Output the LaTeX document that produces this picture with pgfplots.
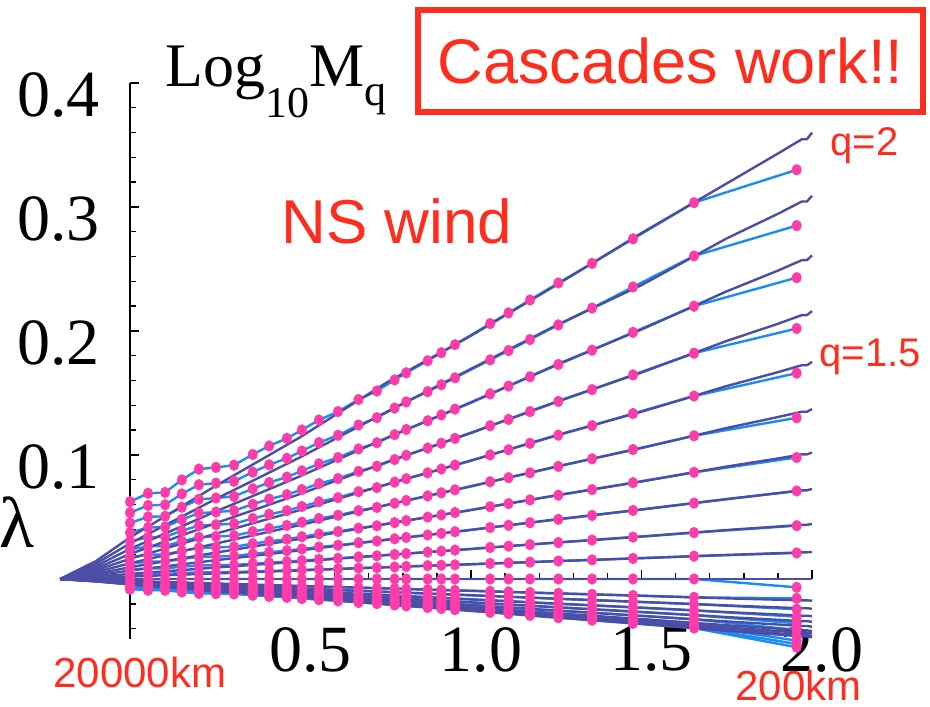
\documentclass[border=0pt]{standalone}
\usepackage{pgfplots}
\usepackage{pgfplotstable}
\pgfplotsset{compat=1.18}
\usepackage{fontspec}
\setmainfont{Liberation Serif}
\newfontfamily\redsans{Liberation Sans}
\definecolor{modelc}{RGB}{75,78,165}
\definecolor{datac}{RGB}{25,140,245}
\definecolor{dotc}{RGB}{255,60,170}
\definecolor{redtxt}{RGB}{255,45,30}

\pgfplotstableread{
x d1 d2 d3 d4 d5 d6 d7 d8 d9 d10 d11 d12 d13 d14 d15 d16 d17 d18 d19 d20
0.000 0.0623 0.0535 0.0452 0.0374 0.0303 0.0237 0.0176 0.0126 0.0077 0.0038 0 -0.0030 -0.0042 -0.0052 -0.0060 -0.0067 -0.0073 -0.0076 -0.0080 -0.0081
0.053 0.0691 0.0593 0.0501 0.0415 0.0336 0.0263 0.0196 0.0139 0.0085 0.0042 0 -0.0034 -0.0046 -0.0058 -0.0066 -0.0074 -0.0081 -0.0084 -0.0088 -0.0090
0.103 0.0698 0.0599 0.0506 0.0419 0.0340 0.0266 0.0198 0.0141 0.0086 0.0042 0 -0.0034 -0.0047 -0.0058 -0.0067 -0.0075 -0.0081 -0.0085 -0.0089 -0.0091
0.152 0.0799 0.0686 0.0579 0.0480 0.0389 0.0304 0.0226 0.0161 0.0099 0.0048 0 -0.0039 -0.0053 -0.0067 -0.0077 -0.0085 -0.0093 -0.0098 -0.0102 -0.0104
0.202 0.0886 0.0760 0.0642 0.0531 0.0431 0.0337 0.0251 0.0179 0.0109 0.0054 0 -0.0043 -0.0059 -0.0074 -0.0085 -0.0095 -0.0103 -0.0108 -0.0113 -0.0116
0.252 0.0900 0.0773 0.0653 0.0540 0.0438 0.0343 0.0255 0.0182 0.0111 0.0055 0 -0.0044 -0.0060 -0.0075 -0.0086 -0.0096 -0.0105 -0.0110 -0.0115 -0.0118
0.305 0.0918 0.0788 0.0666 0.0551 0.0446 0.0349 0.0260 0.0185 0.0113 0.0056 0 -0.0045 -0.0061 -0.0077 -0.0088 -0.0098 -0.0107 -0.0112 -0.0117 -0.0120
0.360 0.1004 0.0862 0.0728 0.0603 0.0488 0.0382 0.0285 0.0203 0.0124 0.0061 0 -0.0049 -0.0067 -0.0084 -0.0096 -0.0107 -0.0117 -0.0123 -0.0128 -0.0131
0.408 0.1073 0.0921 0.0778 0.0644 0.0522 0.0408 0.0304 0.0216 0.0132 0.0065 0 -0.0052 -0.0072 -0.0089 -0.0103 -0.0115 -0.0125 -0.0131 -0.0137 -0.0140
0.460 0.1134 0.0973 0.0822 0.0680 0.0551 0.0432 0.0321 0.0229 0.0140 0.0069 0 -0.0055 -0.0076 -0.0095 -0.0109 -0.0121 -0.0132 -0.0139 -0.0145 -0.0148
0.504 0.1202 0.1032 0.0872 0.0721 0.0585 0.0458 0.0341 0.0242 0.0148 0.0073 0 -0.0058 -0.0080 -0.0100 -0.0115 -0.0129 -0.0140 -0.0147 -0.0154 -0.0157
0.554 0.1282 0.1100 0.0929 0.0769 0.0623 0.0488 0.0363 0.0258 0.0158 0.0078 0 -0.0062 -0.0085 -0.0107 -0.0123 -0.0137 -0.0150 -0.0157 -0.0164 -0.0167
0.610 0.1350 0.1159 0.0979 0.0810 0.0656 0.0514 0.0383 0.0272 0.0167 0.0082 0 -0.0066 -0.0090 -0.0113 -0.0129 -0.0144 -0.0158 -0.0165 -0.0173 -0.0176
0.670 0.1447 0.1242 0.1049 0.0868 0.0704 0.0551 0.0410 0.0292 0.0178 0.0088 0 -0.0070 -0.0096 -0.0121 -0.0139 -0.0155 -0.0169 -0.0177 -0.0185 -0.0189
0.724 0.1516 0.1301 0.1099 0.0909 0.0737 0.0577 0.0429 0.0306 0.0187 0.0092 0 -0.0074 -0.0101 -0.0126 -0.0145 -0.0162 -0.0177 -0.0185 -0.0194 -0.0198
0.776 0.1606 0.1378 0.1164 0.0963 0.0781 0.0611 0.0455 0.0324 0.0198 0.0097 0 -0.0078 -0.0107 -0.0134 -0.0154 -0.0172 -0.0187 -0.0196 -0.0205 -0.0210
0.810 0.1663 0.1428 0.1206 0.0998 0.0809 0.0633 0.0471 0.0335 0.0205 0.0101 0 -0.0081 -0.0111 -0.0139 -0.0159 -0.0178 -0.0194 -0.0203 -0.0213 -0.0217
0.873 0.1760 0.1511 0.1276 0.1056 0.0856 0.0670 0.0499 0.0355 0.0217 0.0107 0 -0.0086 -0.0117 -0.0147 -0.0169 -0.0188 -0.0205 -0.0215 -0.0225 -0.0230
0.913 0.1825 0.1567 0.1323 0.1095 0.0887 0.0695 0.0517 0.0368 0.0225 0.0111 0 -0.0089 -0.0122 -0.0152 -0.0175 -0.0195 -0.0213 -0.0223 -0.0233 -0.0238
0.953 0.1890 0.1622 0.1370 0.1134 0.0919 0.0719 0.0536 0.0381 0.0233 0.0114 0 -0.0092 -0.0126 -0.0158 -0.0181 -0.0202 -0.0221 -0.0231 -0.0242 -0.0247
1.056 0.2059 0.1767 0.1493 0.1236 0.1001 0.0784 0.0583 0.0415 0.0254 0.0125 0 -0.0100 -0.0137 -0.0172 -0.0197 -0.0220 -0.0240 -0.0252 -0.0263 -0.0269
1.110 0.2146 0.1842 0.1556 0.1287 0.1043 0.0817 0.0608 0.0433 0.0265 0.0130 0 -0.0104 -0.0143 -0.0179 -0.0206 -0.0229 -0.0250 -0.0262 -0.0274 -0.0280
1.173 0.2250 0.1931 0.1631 0.1350 0.1094 0.0856 0.0638 0.0454 0.0278 0.0136 0 -0.0109 -0.0150 -0.0188 -0.0216 -0.0241 -0.0263 -0.0275 -0.0288 -0.0294
1.256 0.2387 0.2049 0.1730 0.1432 0.1160 0.0908 0.0676 0.0481 0.0294 0.0145 0 -0.0116 -0.0159 -0.0199 -0.0229 -0.0255 -0.0278 -0.0292 -0.0305 -0.0312
1.355 0.2545 0.2185 0.1845 0.1527 0.1237 0.0969 0.0721 0.0513 0.0314 0.0154 0 -0.0124 -0.0170 -0.0212 -0.0244 -0.0272 -0.0297 -0.0311 -0.0325 -0.0332
1.475 0.2743 0.2355 0.1989 0.1646 0.1334 0.1044 0.0777 0.0553 0.0338 0.0166 0 -0.0133 -0.0183 -0.0229 -0.0263 -0.0293 -0.0320 -0.0335 -0.0351 -0.0358
1.654 0.3035 0.2605 0.2200 0.1821 0.1475 0.1155 0.0860 0.0612 0.0374 0.0184 0 -0.0148 -0.0202 -0.0253 -0.0291 -0.0325 -0.0354 -0.0371 -0.0388 -0.0396
1.955 0.3300 0.2850 0.2430 0.2020 0.1660 0.1300 0.0980 0.0710 0.0430 0.0210 -0.0067 -0.0156 -0.0244 -0.0304 -0.0357 -0.0411 -0.0460 -0.0497 -0.0524 -0.0550
}\dataT

\pgfplotstableread{
x m1 m2 m3 m4 m5 m6 m7 m8 m9 m10 m11 m12 m13 m14 m15 m16 m17 m18 m19 m20
-0.205 0 0 0 0 0 0 0 0 0 0 0 0 0 0 0 0 0 0 0 0
-0.100 0.0144 0.0124 0.0104 0.0086 0.0070 0.0055 0.0041 0.0029 0.0018 0.0009 0 -0.0007 -0.0010 -0.0012 -0.0014 -0.0015 -0.0017 -0.0018 -0.0018 -0.0019
0.000 0.0335 0.0287 0.0243 0.0201 0.0163 0.0127 0.0095 0.0068 0.0041 0.0020 0 -0.0016 -0.0022 -0.0028 -0.0032 -0.0036 -0.0039 -0.0041 -0.0043 -0.0044
0.250 0.0749 0.0643 0.0543 0.0449 0.0364 0.0285 0.0212 0.0151 0.0092 0.0045 0 -0.0036 -0.0050 -0.0062 -0.0072 -0.0080 -0.0087 -0.0092 -0.0096 -0.0098
0.500 0.1145 0.0983 0.0830 0.0687 0.0557 0.0436 0.0324 0.0231 0.0141 0.0069 0 -0.0056 -0.0076 -0.0095 -0.0110 -0.0122 -0.0134 -0.0140 -0.0146 -0.0149
0.750 0.1580 0.1344 0.1135 0.0940 0.0761 0.0596 0.0444 0.0316 0.0193 0.0095 0 -0.0076 -0.0104 -0.0131 -0.0150 -0.0167 -0.0183 -0.0191 -0.0200 -0.0204
1.000 0.1962 0.1695 0.1422 0.1177 0.0954 0.0747 0.0556 0.0396 0.0242 0.0119 0 -0.0095 -0.0131 -0.0164 -0.0188 -0.0210 -0.0229 -0.0240 -0.0251 -0.0256
1.250 0.2370 0.2046 0.1728 0.1430 0.1159 0.0907 0.0675 0.0481 0.0294 0.0144 0 -0.0116 -0.0159 -0.0199 -0.0228 -0.0255 -0.0278 -0.0291 -0.0305 -0.0311
1.500 0.2790 0.2370 0.2012 0.1665 0.1349 0.1056 0.0786 0.0560 0.0342 0.0168 0 -0.0135 -0.0185 -0.0231 -0.0266 -0.0297 -0.0324 -0.0339 -0.0355 -0.0362
1.750 0.3190 0.2747 0.2320 0.1920 0.1556 0.1218 0.0907 0.0645 0.0395 0.0194 0 -0.0156 -0.0213 -0.0267 -0.0307 -0.0342 -0.0373 -0.0391 -0.0409 -0.0418
1.900 0.3431 0.2945 0.2487 0.2058 0.1668 0.1306 0.0972 0.0692 0.0423 0.0208 0 -0.0167 -0.0229 -0.0286 -0.0329 -0.0367 -0.0400 -0.0419 -0.0438 -0.0448
1.970 0.3546 0.3044 0.2571 0.2128 0.1724 0.1349 0.1005 0.0715 0.0437 0.0215 0 -0.0172 -0.0236 -0.0296 -0.0340 -0.0379 -0.0414 -0.0433 -0.0453 -0.0463
1.985 0.3546 0.3044 0.2571 0.2128 0.1724 0.1349 0.1005 0.0715 0.0437 0.0215 0 -0.0172 -0.0236 -0.0296 -0.0340 -0.0379 -0.0414 -0.0433 -0.0453 -0.0463
2.000 0.3600 0.3090 0.2610 0.2160 0.1750 0.1370 0.1020 0.0726 0.0444 0.0218 0 -0.0175 -0.0240 -0.0300 -0.0345 -0.0385 -0.0420 -0.0440 -0.0460 -0.0470
}\modelT

\begin{document}
\begin{tikzpicture}
\begin{axis}[
  x=170.5pt, y=620pt,
  xmin=-0.1, xmax=2.0, ymin=-0.048, ymax=0.4,
  axis lines=middle,
  axis line style={-, line width=1.2pt, black},
  every inner x axis line/.append style={-},
  every inner y axis line/.append style={-},
  clip=false,
  tick align=inside,
  major tick length=4.5pt, minor tick length=3pt,
  tick style={black, line width=0.7pt},
  xtick={0.5,1,1.5,2}, xticklabels={0.5,1.0,1.5,2.0},
  minor xtick={-0.1,0,0.1,0.2,0.3,0.4,0.6,0.7,0.8,0.9,1.1,1.2,1.3,1.4,1.6,1.7,1.8,1.9},
  ytick={0.1,0.2,0.3,0.4}, yticklabels={0.1,0.2,0.3,0.4},
  minor ytick={-0.04,-0.02,0.02,0.04,0.06,0.08,0.12,0.14,0.16,0.18,0.22,0.24,0.26,0.28,0.32,0.34,0.36,0.38},
  xticklabel style={anchor=north, inner sep=0pt, yshift=-24pt, xshift=5pt, font=\fontsize{33}{33}\selectfont},
  yticklabel style={anchor=east, inner sep=0pt, xshift=-15pt, yshift=-6pt, font=\fontsize{33}{33}\selectfont},
]
\pgfplotsinvokeforeach{1,...,20}{
  \addplot[color=datac, line width=1.2pt, mark=*, mark size=1.9pt, mark options={draw=dotc, fill=dotc, yscale=1.15}] table[x=x, y=d#1] {\dataT};
}
\pgfplotsinvokeforeach{1,...,20}{
  \addplot[color=modelc, line width=1.2pt, no marks, line join=round] table[x=x, y=m#1] {\modelT};
}
\node[anchor=base west, inner sep=0pt, font=\fontsize{31}{31}\selectfont] at (axis cs:0.103,0.397)
  {Log\raisebox{-0.5em}{\fontsize{22}{22}\selectfont 10}M\raisebox{-0.3em}{\fontsize{22}{22}\selectfont q}};
\node[anchor=base, inner sep=0pt, font=\fontsize{36}{36}\selectfont] at (axis cs:-0.331,0.0258) {λ};
\node[draw=redtxt, line width=3pt, minimum width=252.5pt, minimum height=51pt, inner sep=0pt,
  text=redtxt, font=\redsans\fontsize{31.5}{31.5}\selectfont] at (axis cs:1.585,0.4177) {Cascades work!!};
\node[text=redtxt, inner sep=0pt, font=\redsans\fontsize{31}{31}\selectfont] at (axis cs:0.783,0.2883) {NS wind};
\node[anchor=base west, text=redtxt, inner sep=0pt, font=\redsans\fontsize{20}{20}\selectfont] at (axis cs:2.053,0.3419) {q=2};
\node[anchor=base west, text=redtxt, inner sep=0pt, font=\redsans\fontsize{20}{20}\selectfont] at (axis cs:2.0205,0.171) {q=1.5};
\node[anchor=base west, text=redtxt, inner sep=0pt, font=\redsans\fontsize{21}{21}\selectfont] at (axis cs:-0.2258,-0.0879) {20000km};
\node[anchor=base west, text=redtxt, inner sep=0pt, font=\redsans\fontsize{21}{21}\selectfont] at (axis cs:1.774,-0.0976) {200km};
\coordinate (bbBL) at (axis cs:-0.38123,-0.10242);
\coordinate (bbTR) at (axis cs:2.34604,0.46694);
\end{axis}
\pgfresetboundingbox
\path[use as bounding box] (bbBL) rectangle (bbTR);
\end{tikzpicture}
\end{document}
